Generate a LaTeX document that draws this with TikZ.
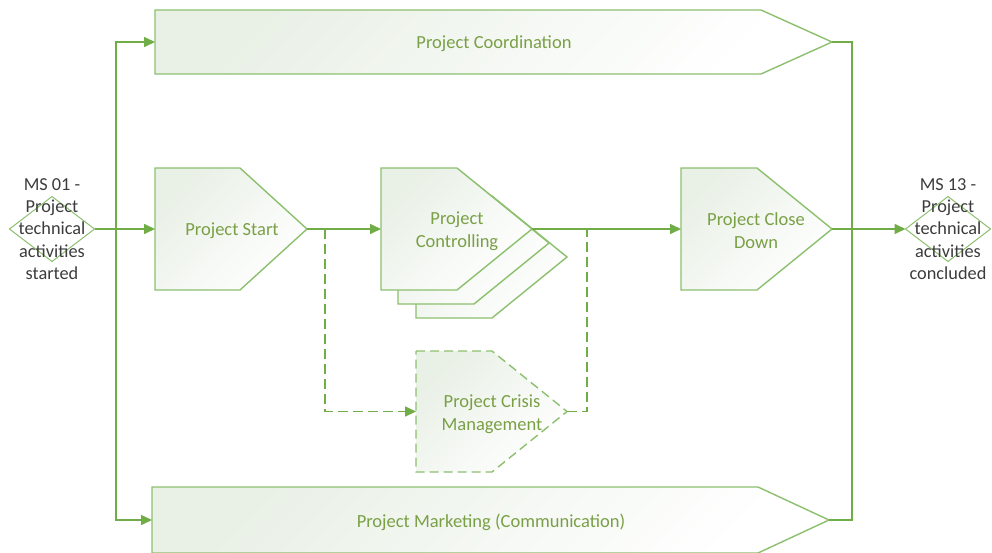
\documentclass[tikz,border=0pt]{standalone}
\usepackage{fontspec}
\setmainfont{Carlito}
\usetikzlibrary{arrows.meta,shapes.geometric}

\definecolor{wiregreen}{RGB}{112,173,71}
\definecolor{boxline}{RGB}{140,192,110}
\definecolor{tint}{RGB}{233,240,230}
\definecolor{txtgreen}{RGB}{122,160,70}
\definecolor{mstext}{RGB}{60,60,60}

\tikzset{
  wire/.style={draw=wiregreen, line width=1.6pt},
  arr/.style={-{Triangle[length=11pt,width=10pt]}},
  dashwire/.style={wire, dash pattern=on 10pt off 5pt},
  phase/.style={draw=boxline, line width=1.4pt, top color=tint, bottom color=white, shading angle=45},
  phasedash/.style={phase, dash pattern=on 9pt off 5pt},
  lbl/.style={text=txtgreen, font=\fontsize{18.5}{23}\selectfont, align=center},
  milestone/.style={diamond, draw=boxline, fill=white, line width=1pt,
    minimum width=85pt, minimum height=65pt, inner sep=0pt, outer sep=0pt},
  mslbl/.style={text=mstext, font=\fontsize{18.3}{22.3}\selectfont, align=center}
}

% pointed phase box: [style]{name}{left}{top}{bottom}{corner x}{tip x}
\newcommand\phasebox[7][phase]{%
  \path[#1] (#3,#4) -- (#6,#4) -- (#7,{(#4+#5)/2}) -- (#6,#5) -- (#3,#5) -- cycle;
  \coordinate (#2-in) at (#3,{(#4+#5)/2});
  \coordinate (#2-out) at (#7,{(#4+#5)/2});}

\begin{document}
\begin{tikzpicture}[x=1pt,y=-1pt]
\useasboundingbox (0,0) rectangle (992,552);

% long-running phases
\phasebox{coord}{155}{10}{74}{761}{832}
\phasebox{mkt}{152}{487}{553}{758}{829}

% main sequence
\phasebox{start}{155}{168}{290}{240}{307}
\phasebox{ctrlC}{416}{196}{318}{492}{567}
\phasebox{ctrlB}{398}{182}{304}{474}{549}
\phasebox{ctrl}{381}{168}{290}{457}{532}
\phasebox{close}{681}{168}{290}{757}{832}
\phasebox[phasedash]{crisis}{416}{351}{472}{492}{567}

% phase labels
\node[lbl] (coordtxt) at (494,44) {Project Coordination};
\node[lbl] (mkttxt) at (491,522) {Project Marketing (Communication)};
\node[lbl] (starttxt) at (232,231) {Project Start};
\node[lbl] (ctrltxt) at (457,231) {Project\\Controlling};
\node[lbl] (closetxt) at (756,231) {Project Close\\Down};
\node[lbl] (crisistxt) at (492,414) {Project Crisis\\Management};

% milestones
\node[milestone] (ms1) at (52,229) {};
\node[milestone] (ms13) at (948,229) {};

% connectors
\coordinate (jl) at (116,229);
\coordinate (fork) at (325,229);
\coordinate (merge) at (587,229);
\coordinate (jr) at (852,229);

\draw[wire] (ms1.east) -- (jl);
\draw[wire,arr] (jl) -- (start-in);
\draw[wire,arr] (jl) |- (coord-in);
\draw[wire,arr] (jl) |- (mkt-in);
\draw[wire,arr] (start-out) -- (ctrl-in);
\draw[dashwire,arr] (fork) |- (crisis-in);
\draw[wire,arr] (ctrl-out) -- (close-in);
\draw[dashwire] (crisis-out) -| (merge);
\draw[wire] (coord-out) -| (jr);
\draw[wire] (mkt-out) -| (jr);
\draw[wire,arr] (close-out) -- (ms13.west);

% milestone labels
\node[mslbl] (ms1txt) at (52,229) {MS 01 -\\Project\\technical\\activities\\started};
\node[mslbl] (ms13txt) at (948,229) {MS 13 -\\Project\\technical\\activities\\concluded};
\end{tikzpicture}
\end{document}
